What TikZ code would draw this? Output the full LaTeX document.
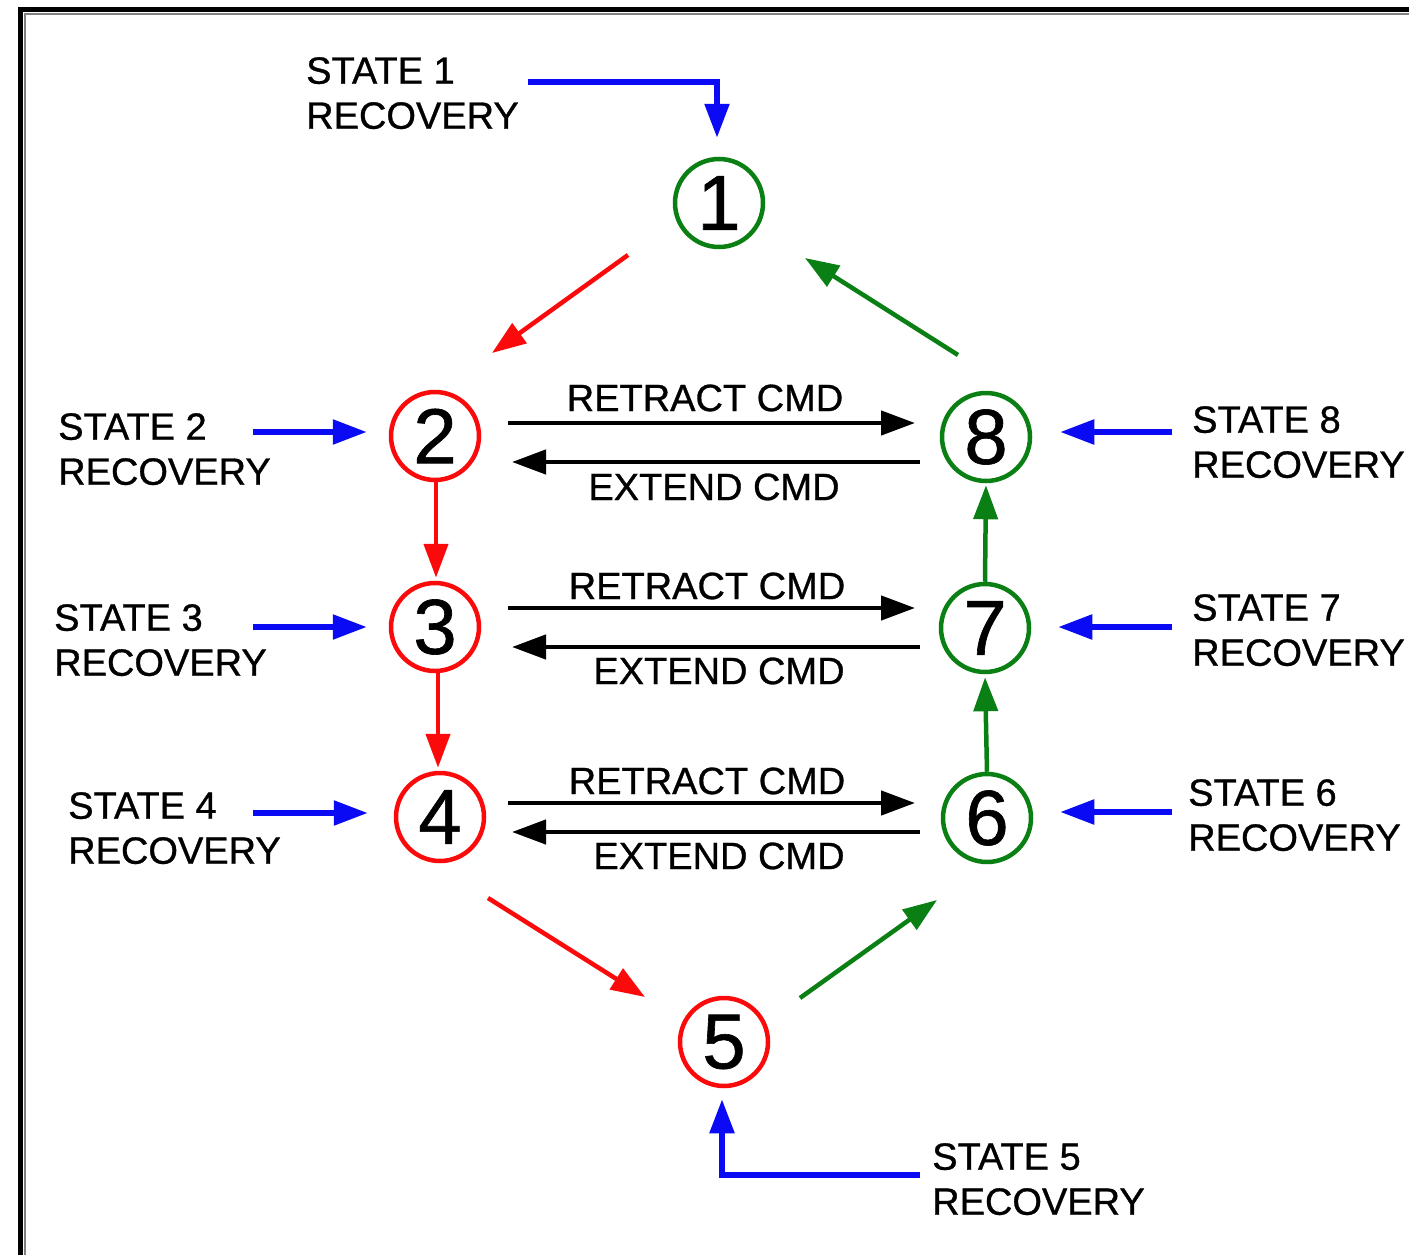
\documentclass[tikz,border=0pt]{standalone}
\usepackage{fontspec}
\setmainfont[FakeBold=0.8,AutoFakeBold=false]{Liberation Sans}
\newfontfamily\heavysans[FakeBold=0.8]{Liberation Sans}
\usetikzlibrary{arrows.meta,calc}
\definecolor{sred}{RGB}{250,10,10}
\definecolor{sgreen}{RGB}{10,128,20}
\definecolor{sblue}{RGB}{10,10,245}
\begin{document}
\begin{tikzpicture}[x=1pt,y=-1pt,
  state/.style={circle,draw,line width=4.5pt,minimum size=88pt,inner sep=0pt,
    font=\heavysans\fontsize{78}{78}\selectfont},
  redst/.style={state,draw=sred},
  greenst/.style={state,draw=sgreen},
  lbl/.style={anchor=north west,inner sep=0pt,align=left,
    font=\heavysans\fontsize{38}{45}\selectfont},
  cmdlbl/.style={inner sep=0pt,font=\heavysans\fontsize{38}{45}\selectfont},
  arr/.style={line width=4.5pt,-{Triangle[length=34pt,width=24pt]}},
  cmd/.style={arr,draw=black},
  rec/.style={arr,line width=5.5pt,draw=sblue},
  fwd/.style={arr,draw=sred},
  back/.style={arr,draw=sgreen}]
\useasboundingbox (0,0) rectangle (1409,1255);
\clip (0,0) rectangle (1409,1255);
\fill[white] (0,0) rectangle (1409,1255);

% frame
\draw[gray,line width=2pt] (25,1270) -- (25,14) -- (1430,14);
\draw[black,line width=5pt] (20.5,1270) -- (20.5,9.5) -- (1430,9.5);

% states
\node[greenst] (n1) at (719,203) {1};
\node[redst]   (n2) at (435,436) {2};
\node[redst]   (n3) at (435,627) {3};
\node[redst]   (n4) at (440,817) {4};
\node[redst]   (n5) at (724,1042) {5};
\node[greenst] (n6) at (987,818) {6};
\node[greenst] (n7) at (985,628) {7};
\node[greenst] (n8) at (986,437) {8};

% recovery labels
\node[lbl] (s1) at (306,57)   {STATE 1\\RECOVERY};
\node[lbl] (s2) at (58,413)   {STATE 2\\RECOVERY};
\node[lbl] (s3) at (54,604)   {STATE 3\\RECOVERY};
\node[lbl] (s4) at (68,792)   {STATE 4\\RECOVERY};
\node[lbl] (s5) at (932,1143) {STATE 5\\RECOVERY};
\node[lbl] (s6) at (1188,779) {STATE 6\\RECOVERY};
\node[lbl] (s7) at (1192,594) {STATE 7\\RECOVERY};
\node[lbl] (s8) at (1192,406) {STATE 8\\RECOVERY};

% recovery arrow tails
\coordinate (r1) at (528,82);
\coordinate (r2) at (253,432);
\coordinate (r3) at (253,627);
\coordinate (r4) at (253,813);
\coordinate (r5) at (920,1175);
\coordinate (r6) at (1172,812);
\coordinate (r7) at (1172,627);
\coordinate (r8) at (1172,432);

\draw[rec] (r1) -| ($(n1.north)+(-2,-19)$);
\draw[rec,shorten >=22pt] (r2) -- (r2 -| n2.west);
\draw[rec,shorten >=22pt] (r3) -- (r3 -| n3.west);
\draw[rec,shorten >=26pt] (r4) -- (r4 -| n4.west);
\draw[rec] (r5) -| ($(n5.south)+(-2,11)$);
\draw[rec,shorten >=27pt] (r6) -- (r6 -| n6.east);
\draw[rec,shorten >=27pt] (r7) -- (r7 -| n7.east);
\draw[rec,shorten >=28pt] (r8) -- (r8 -| n8.east);

% sequence 1-2-3-4-5
\draw[fwd] ($(n1)+(-91,52)$) -- ($(n2)+(57,-83)$);
\draw[fwd,shorten >=3pt] ($(n2.south)+(1,0)$) -- ($(n3.north)+(1,0)$);
\draw[fwd] ($(n3.south)+(3,0)$) -- ($(n4.north)+(-2,-3)$);
\draw[fwd] ($(n4)+(48,81)$) -- ($(n5)+(-79,-45)$);

% sequence 5-6-7-8-1
\draw[back] ($(n5)+(76,-44)$) -- ($(n6)+(-50,82)$);
\draw[back,shorten >=3pt] (n6.north) -- (n7.south);
\draw[back,shorten >=2pt] (n7.north) -- (n8.south);
\draw[back] ($(n8)+(-28,-82)$) -- ($(n1)+(86,55)$);

% commands between the columns
\draw[cmd] ($(n2)+(73,-13)$) -- ($(n8)+(-71,-14)$);
\draw[cmd] ($(n8)+(-66,25)$) -- ($(n2)+(77,26)$);
\draw[cmd] ($(n3)+(73,-19)$) -- ($(n7)+(-70,-20)$);
\draw[cmd] ($(n7)+(-65,19)$) -- ($(n3)+(77,20)$);
\draw[cmd] ($(n4)+(68,-14)$) -- ($(n6)+(-72,-15)$);
\draw[cmd] ($(n6)+(-67,14)$) -- ($(n4)+(72,15)$);

\node[cmdlbl] (t2) at (705,398) {RETRACT CMD};
\node[cmdlbl] (e2) at (714,487) {EXTEND CMD};
\node[cmdlbl] (t3) at (707,586) {RETRACT CMD};
\node[cmdlbl] (e3) at (719,671) {EXTEND CMD};
\node[cmdlbl] (t4) at (707,781) {RETRACT CMD};
\node[cmdlbl] (e4) at (719,856) {EXTEND CMD};
\end{tikzpicture}
\end{document}
